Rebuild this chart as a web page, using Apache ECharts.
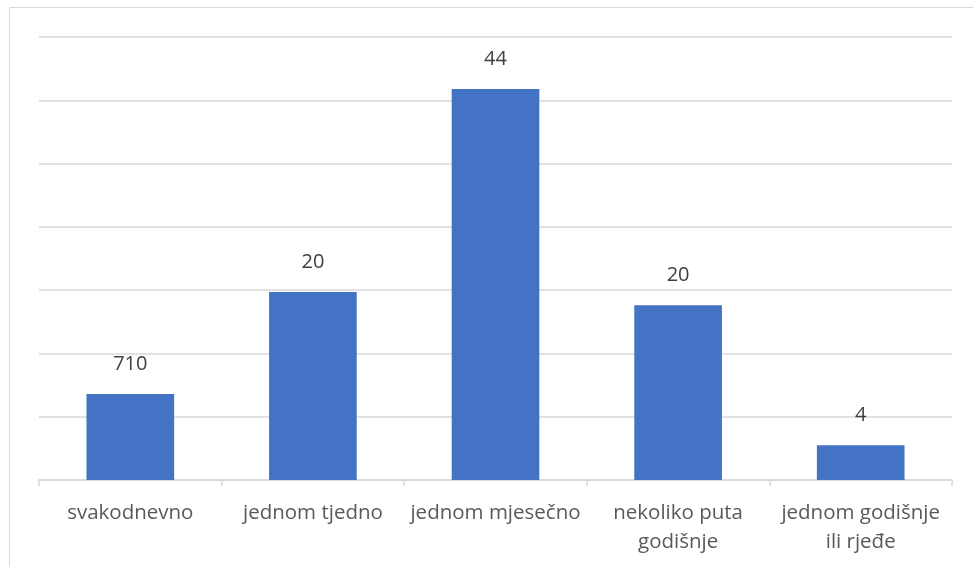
<!DOCTYPE html>
<html>
<head>
<meta charset="utf-8">
<script src="https://cdn.jsdelivr.net/npm/echarts@6/dist/echarts.min.js"></script>
<style>html,body{margin:0;padding:0;background:#fff;}#c{width:973px;height:567px;}</style>
</head>
<body>
<div id="c"></div>
<script>
const categories = ['svakodnevno', 'jednom tjedno', 'jednom mjesečno', 'nekoliko puta\ngodišnje', 'jednom godišnje\nili rjeđe'];
const values = [1.36, 2.97, 6.18, 2.76, 0.55];
const labelTexts = ['710', '20', '44', '20', '4'];

const chart = echarts.init(document.getElementById('c'));
chart.setOption({
  animation: false,
  backgroundColor: '#fff',
  graphic: [{
    type: 'rect', shape: {x: 9.5, y: 7.5, width: 1000, height: 700},
    style: {fill: 'none', stroke: '#d9d9d9', lineWidth: 1}, silent: true, z: -1
  }],
  grid: {left: 39, right: 21, top: 37, bottom: 87},
  xAxis: {
    type: 'category', data: categories,
    axisLine: {lineStyle: {color: '#d9d9d9', width: 1.5}},
    axisTick: {show: true, length: 6, lineStyle: {color: '#d9d9d9', width: 1.5}},
    axisLabel: {color: '#595959', fontFamily: 'Open Sans', fontSize: 20.5, lineHeight: 29, margin: 19, interval: 0}
  },
  yAxis: {
    type: 'value', min: 0, max: 7, interval: 1,
    axisLabel: {show: false}, axisLine: {show: false}, axisTick: {show: false},
    splitLine: {lineStyle: {color: '#d9d9d9', width: 1.5}}
  },
  series: [{
    type: 'bar', data: values, barWidth: '48%',
    itemStyle: {color: '#4472c4'},
    label: {
      show: true, position: 'top', distance: 20,
      color: '#404040', fontFamily: 'Open Sans', fontSize: 20,
      formatter: p => labelTexts[p.dataIndex]
    }
  }]
});
</script>
</body>
</html>
